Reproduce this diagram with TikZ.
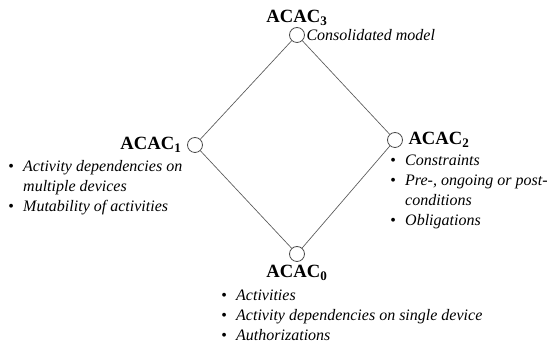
\documentclass[tikz,border=0pt]{standalone}
\usepackage{fontspec}
\setmainfont{Liberation Serif}
\usetikzlibrary{positioning}
\tikzset{
  lvl/.style={draw=black!70,circle,minimum size=11.25pt,inner sep=0pt,line width=0.6pt},
  lbl/.style={inner sep=1pt,font=\fontsize{14}{16}\selectfont\bfseries},
  lst/.style={inner sep=0pt,align=left,font=\fontsize{12}{15}\selectfont\itshape},
  edge/.style={draw=black!65,line width=0.5pt}
}
\newcommand{\bul}{{\upshape\textbullet}}

\begin{document}
\begin{tikzpicture}[x=0.75pt,y=-0.75pt]
        \useasboundingbox (0,0) rectangle (558,348);
        % lattice of the four models
        \node[lvl] (c3) at (297,35) {};
        \node[lvl] (c1) at (195,145) {};
        \node[lvl] (c2) at (395,140) {};
        \node[lvl] (c0) at (297,254) {};
        \draw[edge] (c3) -- (c1);
        \draw[edge] (c3) -- (c2);
        \draw[edge] (c1) -- (c0);
        \draw[edge] (c2) -- (c0);
        % labels and features
        \node[lbl, above=0pt of c3] (l3) {ACAC\textsubscript{3}};
        \node[lst, right=1pt of c3] (d3) {Consolidated model};
        \node[lbl, left=3pt of c1] (l1) {ACAC\textsubscript{1}};
        \node[lst, anchor=north west] (d1) at (8,157) {\begin{tabular}{@{}l@{\hspace{7pt}}l@{}}
            \bul & Activity dependencies on\\
                 & multiple devices\\
            \bul & Mutability of activities
          \end{tabular}};
        \node[lbl, right=3pt of c2] (l2) {ACAC\textsubscript{2}};
        \node[lst, anchor=north west] (d2) at (390,151) {\begin{tabular}{@{}l@{\hspace{7pt}}l@{}}
            \bul & Constraints\\
            \bul & Pre-, ongoing or post-\\
                 & conditions\\
            \bul & Obligations
          \end{tabular}};
        \node[lbl, below=1pt of c0] (l0) {ACAC\textsubscript{0}};
        \node[lst, anchor=north west] (d0) at (221,286) {\begin{tabular}{@{}l@{\hspace{7pt}}l@{}}
            \bul & Activities\\
            \bul & Activity dependencies on single device\\
            \bul & Authorizations
          \end{tabular}};
\end{tikzpicture}
\end{document}
